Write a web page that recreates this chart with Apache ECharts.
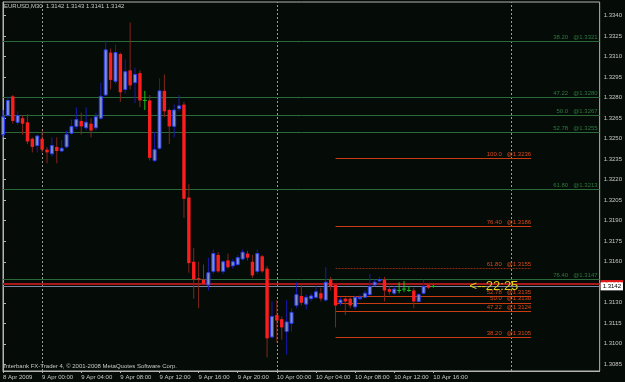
<!DOCTYPE html>
<html><head><meta charset="utf-8">
<script src="https://cdn.jsdelivr.net/npm/echarts@6/dist/echarts.min.js"></script>
<style>html,body{margin:0;padding:0;background:#050b07;}#c{width:625px;height:382px;}</style>
</head><body><div id="c"></div><script>
// ---- data (M30 bars starting 8 Apr 2009 20:00) ----
const open = [1.3253,1.3267,1.3281,1.3262,1.3265,1.3262,1.3250,1.3245,1.3250,1.3242,
1.3239,1.3244,1.3241,1.3244,1.3254,1.3259,1.3263,1.3258,1.3261,1.3258,
1.3265,1.3282,1.3313,1.3292,1.3312,1.3286,1.3300,1.3291,1.3298,1.3278,
1.3278,1.3234,1.3243,1.3285,1.3271,1.3259,1.3272,1.3275,1.3207,1.3160,
1.3148,1.3147,1.3143,1.3153,1.3165,1.3153,1.3161,1.3157,1.3158,1.3162,
1.3166,1.3160,1.3153,1.3164,1.3155,1.3105,1.3121,1.3118,1.3109,1.3115,
1.3128,1.3135,1.3129,1.3133,1.3134,1.3137,1.3132,1.3147,1.3143,1.3130,
1.3133,1.3133,1.3127,1.3133,1.3134,1.3136,1.3143,1.3146,1.3147,1.3140,
1.3137,1.3139,1.3140,1.3139,1.3139,1.3131,1.3137,1.3143,1.3142];
const close = [1.3266,1.3278,1.3263,1.3267,1.3261,1.3248,1.3244,1.3252,1.3242,1.3240,
1.3245,1.3241,1.3243,1.3253,1.3259,1.3264,1.3259,1.3262,1.3256,1.3266,
1.3281,1.3315,1.3293,1.3313,1.3284,1.3299,1.3289,1.3297,1.3278,1.3278,
1.3236,1.3242,1.3285,1.3270,1.3259,1.3271,1.3274,1.3206,1.3159,1.3147,
1.3147,1.3144,1.3152,1.3166,1.3153,1.3160,1.3156,1.3160,1.3163,1.3167,
1.3163,1.3150,1.3166,1.3153,1.3104,1.3120,1.3117,1.3112,1.3116,1.3123,
1.3136,1.3130,1.3134,1.3135,1.3138,1.3133,1.3145,1.3142,1.3128,1.3132,
1.3131,1.3128,1.3134,1.3134,1.3137,1.3142,1.3145,1.3147,1.3139,1.3138,
1.3140,1.3139,1.3140,1.3139,1.3131,1.3136,1.3142,1.3141,1.3142];
const low = [1.3251,1.3266,1.3261,1.3260,1.3253,1.3246,1.3240,1.3240,1.3240,1.3232,
1.3237,1.3232,1.3240,1.3243,1.3253,1.3257,1.3253,1.3256,1.3251,1.3256,
1.3264,1.3281,1.3286,1.3290,1.3277,1.3283,1.3286,1.3276,1.3273,1.3271,
1.3234,1.3233,1.3242,1.3266,1.3246,1.3251,1.3270,1.3192,1.3152,1.3133,
1.3126,1.3143,1.3139,1.3151,1.3152,1.3151,1.3155,1.3155,1.3157,1.3161,
1.3161,1.3148,1.3151,1.3152,1.3090,1.3104,1.3101,1.3103,1.3092,1.3109,
1.3126,1.3128,1.3125,1.3131,1.3133,1.3131,1.3131,1.3139,1.3112,1.3128,
1.3121,1.3126,1.3125,1.3132,1.3134,1.3135,1.3142,1.3145,1.3131,1.3136,
1.3136,1.3137,1.3138,1.3138,1.3126,1.3131,1.3136,1.3140,1.3141];
const high = [1.3271,1.3281,1.3282,1.3270,1.3267,1.3268,1.3251,1.3253,1.3256,1.3244,
1.3251,1.3251,1.3249,1.3256,1.3264,1.3273,1.3269,1.3273,1.3265,1.3269,
1.3291,1.3322,1.3316,1.3319,1.3313,1.3308,1.3335,1.3302,1.3300,1.3285,
1.3282,1.3255,1.3294,1.3297,1.3272,1.3275,1.3282,1.3277,1.3217,1.3170,
1.3160,1.3158,1.3163,1.3169,1.3167,1.3161,1.3166,1.3162,1.3165,1.3169,
1.3168,1.3165,1.3169,1.3165,1.3157,1.3131,1.3132,1.3120,1.3132,1.3126,
1.3145,1.3144,1.3136,1.3137,1.3142,1.3141,1.3156,1.3149,1.3144,1.3134,
1.3134,1.3134,1.3135,1.3136,1.3139,1.3151,1.3147,1.3149,1.3149,1.3142,
1.3142,1.3145,1.3146,1.3142,1.3141,1.3137,1.3147,1.3144,1.3143];

const xTickIdx = [0,8,16,24,32,40,48,56,64,72,80,88];
const xTickLabels = ['8 Apr 2009','9 Apr 00:00','9 Apr 04:00','9 Apr 08:00','9 Apr 12:00','9 Apr 16:00',
  '9 Apr 20:00','10 Apr 00:00','10 Apr 04:00','10 Apr 08:00','10 Apr 12:00','10 Apr 16:00'];
const daySeparators = [8,56,104];
const yTickValues = [1.3340,1.3325,1.3310,1.3295,1.3280,1.3265,1.3250,1.3235,1.3220,1.3205,1.3190,1.3175,1.3160,1.3130,1.3115,1.3100,1.3085];

const greenFibLevels = ['38.20','47.22','50.0','52.78','61.80','76.40'];
const greenFibPrices = [1.3321,1.3280,1.3267,1.3255,1.3213,1.3147];
const redFibLevels = ['100.0','76.40','61.80','52.78','50.0','47.22','38.20'];
const redFibPrices = [1.3236,1.3186,1.3155,1.3135,1.3130,1.3124,1.3105];
const redFibStart = 68, redFibEnd = 108;
const alertPrice = 1.31437;
const bidPrice = close[close.length-1];
const timerText = '<--22:25';
const timerIndex = 95.4;
const lastIndex = 122;

const FONT = 'Liberation Sans, Arial, sans-serif';
const chart = echarts.init(document.getElementById('c'));
const candleData = open.map((o,i)=>[i,o,close[i],low[i],high[i]]);

function renderCandle(params, api){
  const i = api.value(0), o = api.value(1), c = api.value(2), l = api.value(3), h = api.value(4);
  const pO = api.coord([i,o]), pC = api.coord([i,c]), pL = api.coord([i,l]), pH = api.coord([i,h]);
  const x = pO[0];
  const up = c > o, down = c < o;
  const wickColor = up ? '#1a1ab0' : (down ? '#84261c' : '#18c018');
  const children = [{type:'line', shape:{x1:x, y1:pH[1], x2:x, y2:pL[1]}, style:{stroke:wickColor, lineWidth:1}}];
  if (up) {
    const top = pC[1], hgt = Math.max(1, pO[1]-pC[1]);
    children.push({type:'rect', shape:{x:x-1.5, y:top, width:3, height:hgt}, style:{fill:'#8391c0', stroke:'#2a3cf0', lineWidth:1}});
  } else if (down) {
    const top = pO[1], hgt = Math.max(1, pC[1]-pO[1]);
    children.push({type:'rect', shape:{x:x-1.7, y:top, width:3.4, height:hgt}, style:{fill:'#fa1e1e'}});
  } else {
    children.push({type:'line', shape:{x1:x-2, y1:pO[1], x2:x+2, y2:pO[1]}, style:{stroke:'#18c018', lineWidth:1}});
  }
  return {type:'group', children};
}

const greenLines = greenFibPrices.map((p,k)=>[
  {coord:[0,p], lineStyle:{color:'#2a6a38', width:1, type:'solid'},
   label:{show:true, position:'insideEndTop', distance:[2,1], formatter: greenFibLevels[k]+'   @'+p.toFixed(4), color:'#2f7a40', fontSize:6, fontFamily:FONT}},
  {coord:[lastIndex,p]}]);
const redLines = redFibPrices.map((p,k)=>[
  {coord:[redFibStart,p], lineStyle:{color: redFibLevels[k]==='61.80' ? '#8a2a14' : '#c83c12', width:1, type: redFibLevels[k]==='61.80' ? [2,1] : 'solid'},
   label:{show:true, position:'insideEndTop', distance:[0,1], formatter: redFibLevels[k]+'   @'+p.toFixed(4), color:'#d84818', fontSize:6, fontFamily:FONT}},
  {coord:[redFibEnd,p]}]);

chart.setOption({
  animation:false,
  backgroundColor:'#050b07',
  title:{text:'EURUSD,M30  '+open[88].toFixed(4)+' '+high[88].toFixed(4)+' '+low[88].toFixed(4)+' '+close[88].toFixed(4),
    left:4, top:3, padding:0, textStyle:{fontSize:6, color:'#c8c8c8', fontWeight:'normal', fontFamily:FONT}},
  graphic:[{type:'text', left:4, top:363, style:{text:'Interbank FX-Trader 4, \u00a9 2001-2008 MetaQuotes Software Corp.', fill:'#c8c8c8', fontSize:6, fontFamily:FONT}}],
  grid:{left:2, right:23, top:2, bottom:11, show:true, borderColor:'#b4b4b4', borderWidth:1, backgroundColor:'transparent'},
  xAxis:{type:'value', min:0, max:lastIndex, splitLine:{show:false},
    axisLine:{show:true, lineStyle:{color:'#b4b4b4'}},
    axisTick:{show:true, customValues:xTickIdx, length:2, lineStyle:{color:'#b4b4b4'}},
    axisLabel:{show:true, customValues:xTickIdx, formatter:(v)=>xTickLabels[xTickIdx.indexOf(v)]||'', align:'left', margin:3, fontSize:6, color:'#c8c8c8', fontFamily:FONT}},
  yAxis:{type:'value', position:'right', min:1.30801, max:1.33500, splitLine:{show:false},
    axisLine:{show:true, lineStyle:{color:'#b4b4b4'}},
    axisTick:{show:true, customValues:yTickValues, length:3, lineStyle:{color:'#b4b4b4'}},
    axisLabel:{show:true, customValues:yTickValues, formatter:(v)=>v.toFixed(4), margin:4, fontSize:6, color:'#c8c8c8', fontFamily:FONT}},
  series:[
    {type:'line', data:[], silent:true, z:1,
     markLine:{silent:true, symbol:['none','none'], animation:false,
       data:[
         ...daySeparators.map(d=>({xAxis:d, lineStyle:{color:'#9a9a9a', width:1, type:[2,2]}, label:{show:false}})),
         ...greenLines, ...redLines]}},
    {type:'custom', name:'EURUSD', renderItem:renderCandle, data:candleData, encode:{x:0, y:[1,2,3,4]}, z:5, clip:false},
    {type:'line', data:[], silent:true, z:6,
     markLine:{silent:true, symbol:['none','none'], animation:false,
       data:[
         [{coord:[0,alertPrice], lineStyle:{color:'#a81818', width:2, type:'solid'},
           label:{show:true, position:'end', distance:1, formatter:alertPrice.toFixed(4), backgroundColor:'#e01818', color:'#ffffff', padding:[1,2], fontSize:6, lineHeight:6, fontFamily:FONT}},
          {coord:[lastIndex,alertPrice]}],
         [{coord:[0,bidPrice], lineStyle:{color:'#7888a4', width:1, type:'solid'},
           label:{show:true, position:'end', distance:1, formatter:bidPrice.toFixed(4), backgroundColor:'#ffffff', color:'#000000', padding:[1,2], fontSize:6, lineHeight:6, fontFamily:FONT}},
          {coord:[lastIndex,bidPrice]}]
       ]},
     markPoint:{silent:true, animation:false,
       data:[{coord:[timerIndex,bidPrice], symbol:'circle', symbolSize:0,
         label:{show:true, position:'right', distance:0, formatter:timerText, color:'#e2ce1e', fontSize:13, fontFamily:FONT}}]}}
  ]
});
</script></body></html>
